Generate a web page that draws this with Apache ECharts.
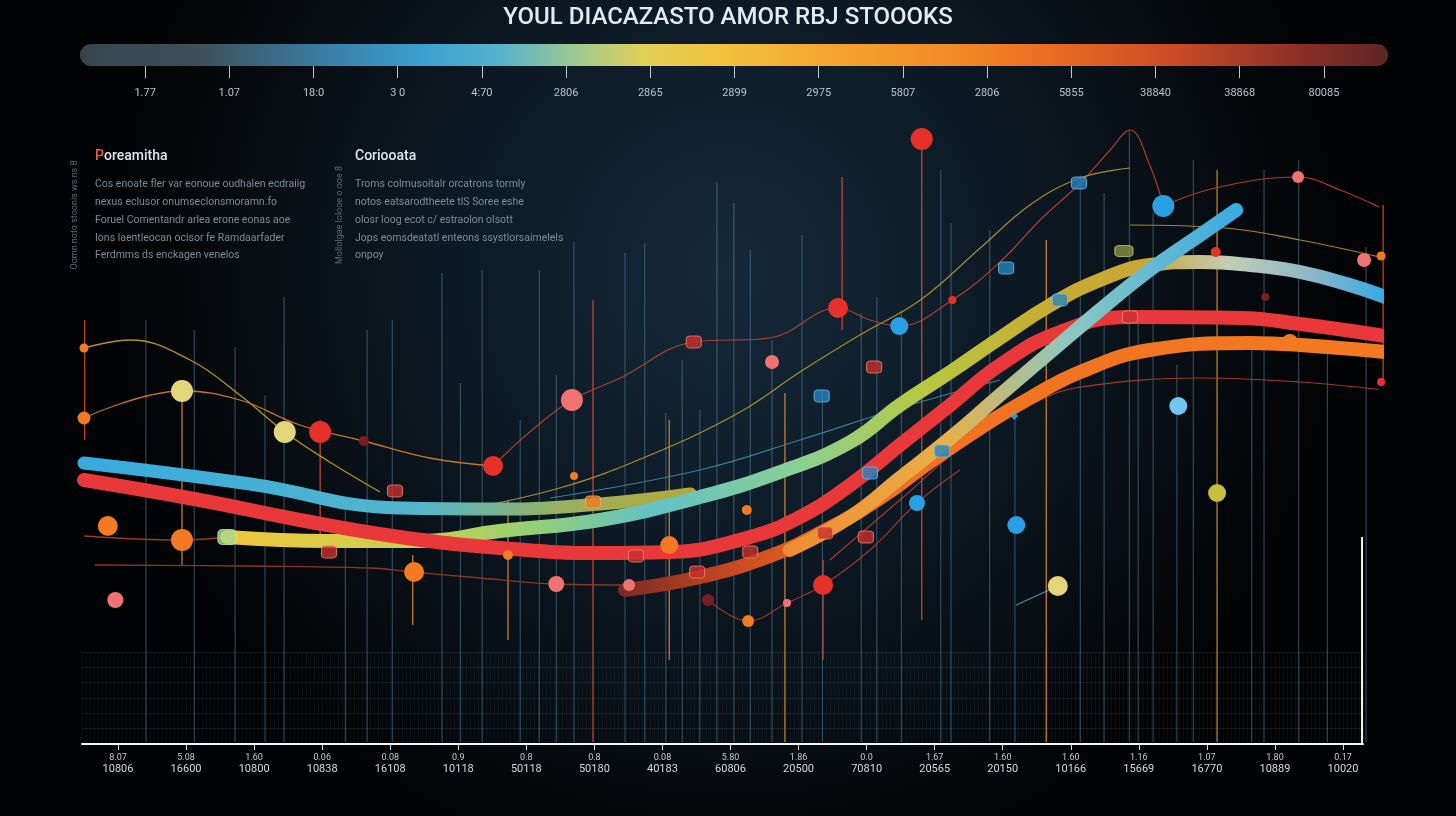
<!DOCTYPE html>
<html><head><meta charset="utf-8">
<script src="https://cdn.jsdelivr.net/npm/echarts@6/dist/echarts.min.js"></script>
<style>html,body{margin:0;padding:0;background:#05080b}#c{width:1456px;height:816px}</style>
</head><body><div id="c"></div><script>
// ---------- DATA ----------
const titleText = 'YOUL DIACAZASTO AMOR RBJ STOOOKS';
const topTickLabels = ['1.77','1.07','18:0','3 0','4:70','2806','2865','2899','2975','5807','2806','5855','38840','38868','80085'];
const bottomLabelTop = ['8.07','5.08','1.60','0.06','0.08','0.9','0.8','0.8','0.08','5.80','1.86','0.0','1.67','1.60','1.60','1.16','1.07','1.80','0.17'];
const bottomLabelBottom = ['10806','16600','10800','10838','16108','10118','50118','50180','40183','60806','20500','70810','20565','20150','10166','15669','16770','10889','10020'];

// thick bands [x, y]
const bandBlue = [[0,70.25],[2.44,65],[4.64,59],[6.11,58.75],[7.58,60],[8.91,62.5]];
const bandYellowGreen = [[2.10,51.75],[3.61,50.75],[4.94,50.75],[6.11,53.25],[7.58,56],[9.05,61.75],[10.23,68],[11.26,75.5],[11.99,84.75],[12.73,93],[13.46,101.5],[14.20,109.75],[14.93,116],[15.66,119.75],[16.40,120.5],[17.13,119.75],[17.87,118],[18.60,114.75],[19.12,111.75]];
const bandRed = [[0,66],[1.70,61],[3.17,56],[4.64,51.75],[6.11,49],[7.58,47.75],[8.61,48],[9.79,51.75],[10.52,56.75],[11.26,64.75],[11.99,74.75],[12.73,84.75],[13.46,94.75],[14.34,103],[15.37,106.75],[16.99,106.5],[17.87,105],[19.12,102]];
const bandOrange = [[7.95,38.5],[9.05,41.75],[10.08,47],[10.96,54],[11.70,61.5],[12.43,70.5],[13.17,79],[13.90,86.5],[14.64,93],[15.66,98.5],[17.13,100.25],[17.87,99.75],[19.12,98]];
const bandDiagonal = [[10.37,48.5],[11.26,56.75],[11.99,66.5],[12.73,76.5],[13.46,87.25],[14.20,98],[14.93,108.5],[15.66,118.5],[16.40,127.25],[16.93,133.5]];

// thin lines
const thinGold1 = [[0,99],[0.68,101],[1.56,96],[2.29,87.25],[2.95,78],[3.61,70.5],[4.35,63]];
const thinOrange1 = [[0,81.5],[1.44,88.25],[2.29,86],[3.17,79.75],[4.11,75.75],[5.08,71.5],[6.01,69.5]];
const thinRed1 = [[6.01,69.5],[6.55,78],[7.17,86],[7.88,91.5],[8.96,100.5],[10.08,101.5],[11.08,109],[11.55,106],[11.98,104.5],[12.76,111],[13.46,120.5],[14.05,131],[14.64,140.25],[15.08,148.5],[15.37,153.5],[15.66,144.75],[15.86,134.5]];
const thinRed2 = [[15.86,134.5],[16.62,139],[17.84,141.75],[18.46,138.5],[19.12,133.5]];
const thinGold2 = [[5.53,58.5],[6.99,64],[8.32,72.25],[9.64,83],[10.52,93],[11.40,102.25],[12.29,111],[13.17,124],[13.90,134.75],[14.64,141.5],[15.37,144]];
const thinGold3 = [[15.37,129.75],[16.77,129],[17.87,126],[19.04,121.75]];
const thinTeal = [[6.85,61.5],[9.05,68.5],[10.52,76],[11.99,84],[13.46,91]];
const thinBrown1 = [[0.16,44.75],[2.44,44.5],[4.20,44],[4.85,43],[5.82,41.5],[6.94,40],[8.01,39.75]];
const thinBrown2 = [[0,52],[1.44,51],[2.10,51.75]];
const thinRed3 = [[9.17,36],[9.76,30.75],[10.33,35.25],[10.86,39.75],[11.55,48.5],[12.24,60.25],[12.87,68.5]];
const thinRed4 = [[10.96,46],[11.99,61],[13.09,77],[14.05,86],[14.64,89.25],[16.40,91.5],[17.87,90.5],[19.09,88.5]];
const thinBlue = [[13.70,34.75],[14.31,39.5]];

// dots [x, y, diameter]
const dotsOrange = [[0,99,9],[0,81.5,13],[0.35,54.5,20],[1.44,51,22],[4.85,43,20],[6.23,47.25,10],[8.60,49.75,18],[9.74,58.5,10],[9.76,30.75,12],[7.20,67,8],[19.06,122,9],[17.72,100.5,16]];
const dotsRed = [[3.47,78,22],[6.01,69.5,20],[11.08,109,20],[12.31,151.25,22],[10.86,39.75,20],[12.76,111,8],[16.63,123,10],[19.06,90.5,8]];
const dotsDarkRed = [[4.11,75.75,10],[9.17,36,12],[17.36,111.75,8]];
const dotsPink = [[7.17,86,22],[10.11,95.5,14],[6.94,40,16],[8.01,39.75,12],[10.33,35.25,8],[0.46,36,16],[17.84,141.75,12],[18.81,121,14]];
const dotsYellow = [[1.44,88.25,22],[2.95,78,22],[14.31,39.5,20]];
const dotsOlive = [[16.65,62.75,18]];
const dotsBlue = [[11.98,104.5,18],[15.86,134.5,22],[13.70,54.75,18],[12.24,60.25,16]];
const dotsLightBlue = [[16.08,84.5,18]];
// square tags [x, y]
const tagsRed = [[4.57,63.25],[8.96,100.5],[11.61,94.25],[15.37,106.75],[8.11,47],[9.79,48],[10.89,52.75],[11.49,51.75],[9.01,43],[3.60,48]];
const tagsBlue = [[10.84,87],[14.62,140.25],[13.55,119],[14.34,111],[11.55,67.75],[12.61,73.25]];
const tagsOrange = [[7.48,60.5]];
const tagsGreen = [[2.10,51.75]];
const tagsOlive = [[15.28,123.25]];
const diamondsBlue = [[13.67,82]];

// vertical drop lines [x, top] (to floor) and [x, top, bottom]
const AXIS_FLOOR = 0.5;
const dropGrey = [[0.91,106],[1.62,103.5],[2.22,99.25],[2.66,87.25],[2.94,111.75],[3.84,61],[4.16,103.5],[4.53,106],[5.26,117.75],[5.53,90.25],[5.85,118.5],[6.41,81],[6.69,118.5],[6.94,92.25],[7.20,125.5],[7.95,122.75],[8.24,125.25],[8.55,82.75],[8.79,96],[9.05,83.5],[9.30,140.5],[9.55,135.25],[9.79,123.5],[10.11,101],[10.55,127.25],[10.85,88.5],[11.42,107.75],[11.65,111.75],[12.01,108.5],[12.59,143.5],[12.74,130.25],[13.31,128.5],[13.68,82.75],[14.64,142.25],[14.99,137.75],[15.36,153.5],[15.49,105.25],[15.71,132.75],[16.06,94.75],[16.30,146],[17.16,100.25],[17.34,143.5],[17.85,146],[18.27,98.5],[18.84,124.25]];
const dropOrange = [[1.44,91,44.75],[4.83,47.25,29.75],[6.23,61,26],[8.60,81,21],[10.30,87.75,0.5],[14.14,126,0.5],[16.65,143.5,0.5]];
const dropRed = [[0.01,106,76],[3.47,81,49.75],[7.48,111,0.5],[11.14,141.75,103.5],[12.31,151,31],[10.86,46,21],[19.09,134.75,89.75]];
const dropWhite = [[18.78,51.75,0]];

// text pins [x, y, text]
const leftLabels = [[0.09,74.25,'8/0'],[0.09,59,'8 .'],[0.2,52,'0S9'],[0.18,44.75,'0 0'],[0.16,37.5,'8S']];
const rowLabels = [[0.16,30.75,'S5'],[1.53,30.75,'80'],[3.94,30.75,'80'],[6.82,30.75,'86'],[7.48,30.75,'83'],[8.01,30.75,'60'],[8.58,30.75,'83'],[9.13,30.75,'43'],[10.30,30.75,'86'],[10.85,30.75,'83'],[11.43,30.75,'83'],[11.99,30.75,'81'],[12.55,30.75,'64'],[13.12,30.75,'44'],[13.71,30.75,'60'],[14.30,30.75,'46'],[14.89,30.75,'01'],[15.47,30.75,'44'],[16.06,30.75,'66'],[16.63,30.75,'84'],[17.22,30.75,'01'],[17.77,30.75,'64'],[18.34,30.75,'33']];
const orangeLabels = [[0.94,52.25,'S9'],[2.95,41.75,'9S8'],[4.14,43.25,'1S9'],[7.44,41,'S8'],[18.82,90.75,'6S8']];

const leftHeading = 'Poreamitha';
const leftLines = ['Cos enoate fler var eonoue oudhalen ecdraiig','nexus eclusor onumseclonsmoramn.fo','Foruel Comentandr arlea erone eonas aoe','Ions laentleocan ocisor fe Ramdaarfader','Ferdmms ds enckagen venelos'];
const rightHeading = 'Coriooata';
const rightLines = ['Troms colmusoitalr orcatrons tormly','notos eatsarodtheete tlS Soree eshe','olosr loog ecot c/ estraolon olsott','Jops eomsdeatatl enteons ssystlorsaimelels','onpoy'];
const sideNote1 = 'Oomn noto stoonis ws ns 8';
const sideNote2 = 'Mollolgae lolooe o ooe 8';

// ---------- CHART ----------
const chart = echarts.init(document.getElementById('c'), null, {renderer:'canvas'});
const LG = (stops) => new echarts.graphic.LinearGradient(0,0,1,0, stops.map(s=>({offset:s[0],color:s[1]})));

function band(data, color, width, z){
  return {type:'line', xAxisIndex:0, yAxisIndex:0, data, smooth:0.45, showSymbol:false, clip:false, z,
    lineStyle:{width, color, cap:'round', join:'round'}, silent:true};
}
function thin(data, color, width, z){
  return {type:'line', xAxisIndex:0, yAxisIndex:0, data, smooth:0.4, showSymbol:false, clip:false, z: z||3,
    lineStyle:{width: width||1.2, color, opacity:0.9}, silent:true};
}
function dots(data, color, z){
  return {type:'scatter', xAxisIndex:0, yAxisIndex:0, data, symbol:'circle', symbolSize:(v)=>v[2], clip:false, z: z||8,
    itemStyle:{color, opacity:1}, silent:true};
}
function tags(data, color, border, size){
  return {type:'scatter', xAxisIndex:0, yAxisIndex:0, data, symbol:'roundRect', symbolSize:size||[15,12], clip:false, z:9,
    itemStyle:{color, borderColor:border, borderWidth:1}, silent:true};
}
function drops(data, color, width, opacity){
  return {type:'custom', xAxisIndex:0, yAxisIndex:0, data, z:1, silent:true, clip:false,
    renderItem:(params, api)=>{
      const a = api.coord([api.value(0), api.value(1)]);
      const b = api.coord([api.value(0), api.value(2)]);
      return {type:'line', shape:{x1:a[0],y1:a[1],x2:b[0],y2:b[1]}, style:{stroke:color, lineWidth:width, opacity}};
    }};
}
function pins(data, color, size){
  return {type:'scatter', xAxisIndex:0, yAxisIndex:0, data, symbolSize:1, clip:false, z:10,
    itemStyle:{opacity:0}, silent:true,
    label:{show:true, position:'inside', formatter:(p)=>p.data[2], color, fontSize:size||10, fontFamily:'Roboto'}};
}

const graphics = [
  {type:'rect', shape:{x:80,y:44,width:1308,height:22,r:11}, z:1,
    style:{fill: new echarts.graphic.LinearGradient(0,0,1,0,[
      {offset:0,color:'#37454e'},{offset:0.09,color:'#3c4f5a'},{offset:0.19,color:'#3a7fa6'},{offset:0.26,color:'#3a9fd0'},
      {offset:0.32,color:'#55b2cc'},{offset:0.38,color:'#a0c890'},{offset:0.43,color:'#e0d058'},{offset:0.49,color:'#f2c23c'},
      {offset:0.57,color:'#f5a630'},{offset:0.67,color:'#f28a24'},{offset:0.74,color:'#ec6c22'},{offset:0.84,color:'#c84a26'},
      {offset:0.93,color:'#8c3026'},{offset:1,color:'#5e2424'}])}},
  {type:'text', x:95, y:156, z:5, style:{text:'P', fill:'#e8603e', font:'500 14px Roboto', verticalAlign:'middle'}},
  {type:'text', x:104, y:156, z:5, style:{text:leftHeading.slice(1), fill:'#dfe6ec', font:'500 14px Roboto', verticalAlign:'middle'}},
  {type:'text', x:355, y:156, z:5, style:{text:rightHeading, fill:'#dfe6ec', font:'500 14px Roboto', verticalAlign:'middle'}},
  {type:'text', x:75, y:215, rotation:Math.PI/2, z:5, style:{text:sideNote1, fill:'#5e6a74', font:'9px Roboto', align:'center', verticalAlign:'middle'}},
  {type:'text', x:340, y:215, rotation:Math.PI/2, z:5, style:{text:sideNote2, fill:'#5e6a74', font:'9px Roboto', align:'center', verticalAlign:'middle'}}
];
const lineYs = [184,202,220,238,255];
leftLines.forEach((t,i)=>graphics.push({type:'text', x:95, y:lineYs[i], z:5, style:{text:t, fill:'#7f8b95', font:'10.5px Roboto', verticalAlign:'middle'}}));
rightLines.forEach((t,i)=>graphics.push({type:'text', x:355, y:lineYs[i], z:5, style:{text:t, fill:'#7f8b95', font:'10.5px Roboto', verticalAlign:'middle'}}));

const option = {
  animation:false,
  backgroundColor:{type:'radial', x:0.5, y:0.33, r:0.75, colorStops:[
    {offset:0,color:'#15293a'},{offset:0.45,color:'#0d1a25'},{offset:0.8,color:'#070c11'},{offset:1,color:'#020304'}]},
  title:{text:titleText, left:'center', top:1, textStyle:{color:'#e4ebf0', fontSize:24, fontWeight:500, fontFamily:'Roboto'}},
  graphic: graphics,
  grid:[
    {left:84, right:79, top:104, bottom:72},
    {left:103, right:90, top:62, height:4},
    {left:82, right:93, top:652, bottom:72}
  ],
  xAxis:[
    {type:'value', gridIndex:0, min:0, max:19, show:false},
    {type:'category', gridIndex:0, data:bottomLabelTop, position:'bottom', boundaryGap:true,
      axisLine:{show:false}, axisTick:{show:true, alignWithLabel:true, length:6, lineStyle:{color:'#d8dee4'}},
      axisLabel:{margin:8, interval:0, formatter:(v,i)=>'{a|'+v+'}\n{b|'+bottomLabelBottom[i]+'}',
        rich:{a:{color:'#c4ccd3', fontSize:9, fontFamily:'Roboto', lineHeight:11}, b:{color:'#d4dbe1', fontSize:11, fontFamily:'Roboto', lineHeight:13}}},
      splitLine:{show:false}},
    {type:'category', gridIndex:1, data:topTickLabels, boundaryGap:true,
      axisLine:{show:false}, axisTick:{show:true, alignWithLabel:true, length:12, lineStyle:{color:'#c0c8d0'}},
      axisLabel:{margin:22, interval:0, color:'#bcc4cc', fontSize:11, fontFamily:'Roboto'}},
    {type:'value', gridIndex:2, min:0, max:320, interval:1,
      axisLine:{show:true, onZero:false, lineStyle:{color:'#f2f4f6', width:2}}, axisTick:{show:false}, axisLabel:{show:false},
      splitLine:{show:true, lineStyle:{color:'rgba(120,150,170,0.07)', width:1}}}
  ],
  yAxis:[
    {type:'value', gridIndex:0, min:0, max:160, show:false},
    {type:'value', gridIndex:1, min:0, max:1, show:false},
    {type:'value', gridIndex:2, min:0, max:6, interval:1, axisLine:{show:false}, axisTick:{show:false}, axisLabel:{show:false},
      splitLine:{show:true, lineStyle:{color:'rgba(120,150,170,0.13)'}}}
  ],
  series:[
    drops(dropGrey.map(d=>[d[0], d[1], AXIS_FLOOR]), '#5a86a4', 1, 0.6),
    drops(dropOrange, '#d88a30', 1.3, 0.9),
    drops(dropRed, '#d24a34', 1.3, 0.9),
    drops(dropWhite, '#f2f4f6', 2, 1),
    thin(thinGold1, '#c9a227', 1.3),
    thin(thinOrange1, '#d9822b', 1.3),
    thin(thinRed1, '#b8432f', 1.2),
    thin(thinRed2, '#c0442f', 1.2),
    thin(thinGold2, '#b89a2a', 1.2),
    thin(thinGold3, '#b8902a', 1.2),
    thin(thinTeal, '#3f8aa0', 1.2),
    thin(thinBrown1, '#9a3a2a', 1.3),
    thin(thinBrown2, '#a84030', 1.3),
    thin(thinRed3, '#a8382c', 1.2),
    thin(thinRed4, '#b0402c', 1.2),
    thin(thinBlue, '#5aa0c0', 1.2),
    band(bandBlue, LG([[0,'#38aade'],[0.55,'#52b6cc'],[0.78,'#98b060'],[1,'#b4a838']]), 13, 4),
    band(bandYellowGreen, LG([[0,'#f2c63c'],[0.17,'#c8d050'],[0.26,'#98d070'],[0.37,'#62c2c6'],[0.5,'#8cd090'],[0.6,'#b8c840'],[0.72,'#c8aa30'],[0.79,'#c8a838'],[0.86,'#c4ccb4'],[0.93,'#8cb8c8'],[1,'#2ea8e6']]), 14, 5),
    band(bandRed, '#e8383a', 14, 6),
    band(bandOrange, LG([[0,'#7a2a22'],[0.15,'#c84a22'],[0.3,'#f07020'],[1,'#f47a22']]), 14, 6),
    band(bandDiagonal, LG([[0,'#f08a30'],[0.35,'#e8b048'],[0.62,'#8cc8c0'],[1,'#38aae2']]), 14, 7),
    dots(dotsOrange, '#f27a22'),
    dots(dotsRed, '#e6302a'),
    dots(dotsDarkRed, '#7a1e24'),
    dots(dotsPink, '#f07272'),
    dots(dotsYellow, '#e2d57a'),
    dots(dotsOlive, '#c6c03e'),
    dots(dotsBlue, '#2aa0e4'),
    dots(dotsLightBlue, '#74c4f2'),
    tags(tagsRed, '#c8302a', '#f08070'),
    tags(tagsBlue, '#2484c0', '#70b8e0'),
    tags(tagsOrange, '#f07a20', '#f8a860'),
    tags(tagsGreen, '#a8d890', '#c8ecb8', [18,15]),
    tags(tagsOlive, '#8a9040', '#b8c070', [18,11]),
    {type:'scatter', xAxisIndex:0, yAxisIndex:0, data:diamondsBlue, symbol:'diamond', symbolSize:8, z:9, itemStyle:{color:'#4aa8d8'}, silent:true},
    pins(leftLabels, '#c0c8d0', 11),
    pins(rowLabels, '#aab4bc', 9),
    pins(orangeLabels, '#f07030', 10)
  ]
};
chart.setOption(option);
</script></body></html>
